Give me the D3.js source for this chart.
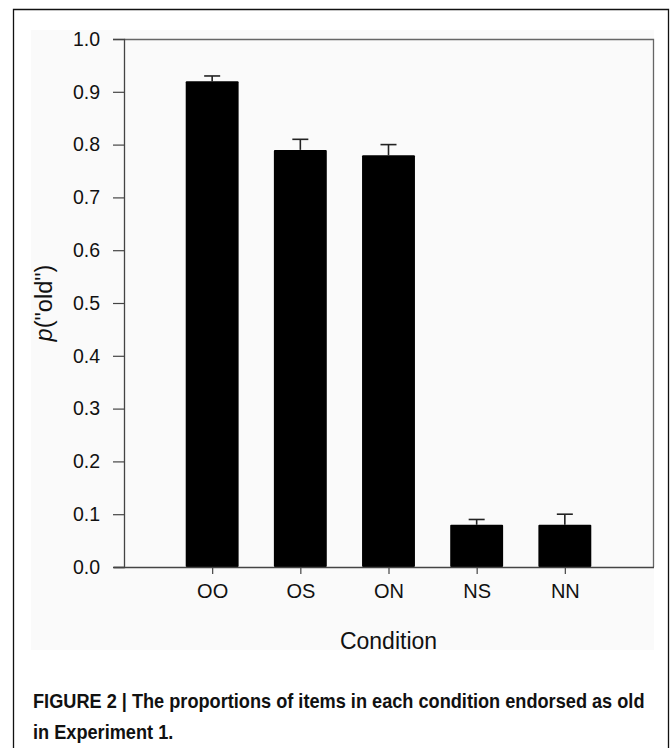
<!DOCTYPE html>
<html>
<head>
<meta charset="utf-8">
<script src="https://cdn.jsdelivr.net/npm/d3@7/dist/d3.min.js"></script>
<style>
  html, body { margin: 0; padding: 0; background: #fff; }
  svg { display: block; }
</style>
</head>
<body>
<svg id="chart" width="671" height="748"></svg>
<script>
const categories = ["OO", "OS", "ON", "NS", "NN"];
const values = [0.92, 0.79, 0.78, 0.08, 0.08];
const errors = [0.01, 0.02, 0.02, 0.01, 0.02];
const yTicks = [0.0, 0.1, 0.2, 0.3, 0.4, 0.5, 0.6, 0.7, 0.8, 0.9, 1.0];
const xTitle = "Condition";
const captionLines = [
  "FIGURE 2 | The proportions of items in each condition endorsed as old",
  "in Experiment 1."
];

const svg = d3.select("#chart");
const W = 671, H = 748;
const plot = { left: 124, right: 653, top: 39, bottom: 567 };
const font = "'Liberation Sans', Arial, sans-serif";

// outer frame (open at bottom)
svg.append("path")
  .attr("d", `M13.5,${H + 2} L13.5,9.5 L668.5,9.5 L668.5,${H + 2}`)
  .attr("fill", "none").attr("stroke", "#111").attr("stroke-width", 1.3);

// light figure background
svg.append("rect").attr("x", 31).attr("y", 30).attr("width", 623).attr("height", 620)
  .attr("fill", "#fafafa");

const x = d3.scalePoint().domain(categories).range([plot.left, plot.right]).padding(1);
const y = d3.scaleLinear().domain([0, 1]).range([plot.bottom, plot.top]);
const barW = x.step() * 0.6;

// top & right frame lines
svg.append("path")
  .attr("d", `M${plot.left},${plot.top + 0.5} L${plot.right + 0.5},${plot.top + 0.5} L${plot.right + 0.5},${plot.bottom}`)
  .attr("fill", "none").attr("stroke", "#666").attr("stroke-width", 1.3);

// error bars
const eg = svg.append("g").attr("stroke", "#222").attr("stroke-width", 1.6);
categories.forEach((c, i) => {
  const cx = x(c);
  eg.append("line").attr("x1", cx).attr("x2", cx)
    .attr("y1", y(values[i])).attr("y2", y(values[i] + errors[i]));
  eg.append("line").attr("x1", cx - 8).attr("x2", cx + 8)
    .attr("y1", y(values[i] + errors[i])).attr("y2", y(values[i] + errors[i]));
});

// bars
svg.append("g").selectAll("rect").data(categories).join("rect")
  .attr("x", d => x(d) - barW / 2)
  .attr("y", (d, i) => y(values[i]))
  .attr("width", barW)
  .attr("height", (d, i) => y(0) - y(values[i]))
  .attr("fill", "#000")
  .attr("rx", 1);

// y axis
const yAxis = svg.append("g").attr("transform", `translate(${plot.left},0)`)
  .call(d3.axisLeft(y).tickValues(yTicks).tickFormat(d3.format(".1f")).tickSize(11).tickPadding(13));
yAxis.attr("font-size", null).attr("font-family", null);
yAxis.select(".domain").attr("stroke", "#444").attr("stroke-width", 1.3);
yAxis.selectAll(".tick line").attr("stroke", "#444").attr("stroke-width", 1.2);
yAxis.selectAll(".tick text")
  .style("font-family", font)
  .style("font-size", "19.5px").attr("fill", "#111");

// x axis
const xAxis = svg.append("g").attr("transform", `translate(0,${plot.bottom})`)
  .call(d3.axisBottom(x).tickSize(7).tickPadding(10).tickSizeOuter(0));
xAxis.attr("font-size", null).attr("font-family", null);
xAxis.select(".domain").attr("stroke", "#444").attr("stroke-width", 1.3)
  .attr("d", `M${plot.left - 10},0.5H${plot.right + 1}`);
xAxis.selectAll(".tick line").attr("stroke", "#444").attr("stroke-width", 1.2);
xAxis.selectAll(".tick text")
  .style("font-family", font)
  .style("font-size", "20px").attr("fill", "#111");

// x title
svg.append("text").attr("x", (plot.left + plot.right) / 2).attr("y", 649)
  .attr("text-anchor", "middle")
  .style("font-family", font)
  .style("font-size", "23px").attr("fill", "#111").text(xTitle);

// y title
const yt = svg.append("text")
  .attr("transform", `translate(52,${(plot.top + plot.bottom) / 2}) rotate(-90)`)
  .attr("text-anchor", "middle")
  .style("font-family", font)
  .style("font-size", "23.5px").attr("fill", "#111");
yt.append("tspan").attr("font-style", "italic").text("p");
yt.append("tspan").text("(\"old\")");

// caption (condensed bold: natural text scaled horizontally)
const cap = svg.append("g");
const t1 = cap.append("text").attr("x", 0).attr("y", 0)
  .style("font-family", font).attr("font-weight", "bold")
  .style("font-size", "20px").attr("fill", "#111").text(captionLines[0]);
const w1 = t1.node().getComputedTextLength();
const ratio = 612 / w1;
t1.attr("transform", `translate(33,708) scale(${ratio},1)`);
cap.append("text").attr("x", 0).attr("y", 0)
  .attr("transform", `translate(33,739) scale(${ratio},1)`)
  .style("font-family", font).attr("font-weight", "bold")
  .style("font-size", "20px").attr("fill", "#111").text(captionLines[1]);
</script>
</body>
</html>
